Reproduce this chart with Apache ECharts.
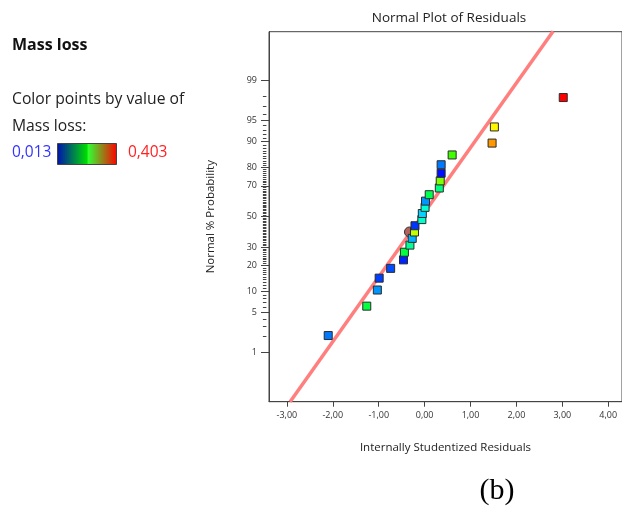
<!DOCTYPE html>
<html><head><meta charset="utf-8">
<script src="https://cdn.jsdelivr.net/npm/echarts@6/dist/echarts.min.js"></script>
<style>html,body{margin:0;padding:0;background:#fff}#c{width:622px;height:506px}</style>
</head><body><div id="c"></div>
<script>
// ---- data ----
const residuals = [-2.10, -1.26, -1.03, -0.99, -0.74, -0.46, -0.44, -0.32, -0.27, -0.22, -0.21, -0.06,
                   -0.05, 0.01, 0.02, 0.10, 0.32, 0.34, 0.36, 0.36, 0.60, 1.47, 1.52, 3.02];
const probabilities = [2.08, 6.25, 10.42, 14.58, 18.75, 22.92, 27.08, 31.25, 35.42, 39.58, 43.75, 47.92,
                       52.08, 56.25, 60.42, 64.58, 68.75, 72.92, 77.08, 81.25, 85.42, 89.58, 93.75, 97.92];
const massLoss = [0.059, 0.184, 0.070, 0.037, 0.042, 0.026, 0.184, 0.151, 0.081, 0.281, 0.033, 0.130,
                  0.094, 0.127, 0.070, 0.179, 0.159, 0.257, 0.019, 0.059, 0.232, 0.345, 0.309, 0.403];
const highlightResidual = [-0.33];
const highlightProbability = [39.58];
const fitLineResidual = [-2.93, 2.80];
const fitLineProbability = [0.076, 99.924];
const probTickLabels = [1, 5, 10, 20, 30, 50, 70, 80, 90, 95, 99];
const residualTicks = [-3, -2, -1, 0, 1, 2, 3, 4];
const massLossMin = 0.013, massLossMax = 0.403;

// ---- normal probability scale ----
function probit(p){
  const a=[-3.969683028665376e+01,2.209460984245205e+02,-2.759285104469687e+02,1.383577518672690e+02,-3.066479806614716e+01,2.506628277459239e+00];
  const b=[-5.447609879822406e+01,1.615858368580409e+02,-1.556989798598866e+02,6.680131188771972e+01,-1.328068155288572e+01];
  const c=[-7.784894002430293e-03,-3.223964580411365e-01,-2.400758277161838e+00,-2.549671010050340e+00,4.374664141464968e+00,2.938163982698783e+00];
  const d=[7.784695709041462e-03,3.224671290700398e-01,2.445134137142996e+00,3.754408661907416e+00];
  const pl=0.02425, ph=1-pl; let q,r;
  if(p<pl){q=Math.sqrt(-2*Math.log(p));return (((((c[0]*q+c[1])*q+c[2])*q+c[3])*q+c[4])*q+c[5])/((((d[0]*q+d[1])*q+d[2])*q+d[3])*q+1);}
  if(p>ph){q=Math.sqrt(-2*Math.log(1-p));return -(((((c[0]*q+c[1])*q+c[2])*q+c[3])*q+c[4])*q+c[5])/((((d[0]*q+d[1])*q+d[2])*q+d[3])*q+1);}
  q=p-0.5;r=q*q;return (((((a[0]*r+a[1])*r+a[2])*r+a[3])*r+a[4])*r+a[5])*q/(((((b[0]*r+b[1])*r+b[2])*r+b[3])*r+b[4])*r+1);
}
const z = pct => probit(pct/100);
const majorZ = probTickLabels.map(z);
const minorZ = [];
for (let p = 1; p <= 99; p++) if (probTickLabels.indexOf(p) < 0) minorZ.push(z(p));

const pointData = residuals.map((r,i)=>[r, z(probabilities[i]), massLoss[i]]);
const highlightData = highlightResidual.map((r,i)=>[r, z(highlightProbability[i])]);
const lineData = fitLineResidual.map((r,i)=>[r, z(fitLineProbability[i])]);

const YMIN=-3.17, YMAX=3.165, XMIN=-3.39, XMAX=4.30;
const fontFam = '"Open Sans", "Noto Sans", sans-serif';
const GRID_W = 355.6;

const chart = echarts.init(document.getElementById('c'), null, {renderer:'canvas'});
chart.setOption({
  animation:false,
  backgroundColor:'#fff',
  grid:{left:269, top:31.7, width:GRID_W, height:370, show:true, borderColor:'#444', borderWidth:1, backgroundColor:'transparent'},
  xAxis:{type:'value', min:XMIN, max:XMAX,
    name:'Internally Studentized Residuals', nameLocation:'middle', nameGap:40,
    nameTextStyle:{fontSize:11.5, color:'#222', fontFamily:fontFam},
    axisLine:{show:true, onZero:false, lineStyle:{color:'#444', width:1}},
    axisTick:{show:true, length:5, customValues:residualTicks, lineStyle:{color:'#444'}},
    axisLabel:{customValues:residualTicks, fontSize:9, color:'#333', margin:9, fontFamily:fontFam,
      formatter:v=>v.toFixed(2).replace('.',',')},
    splitLine:{show:false}},
  yAxis:[
    {type:'value', min:YMIN, max:YMAX, position:'left',
      name:'Normal % Probability', nameLocation:'middle', nameGap:52,
      nameTextStyle:{fontSize:11.5, color:'#222', fontFamily:fontFam},
      axisLine:{show:true, onZero:false, lineStyle:{color:'#444', width:1}},
      axisTick:{show:true, length:8, customValues:majorZ, lineStyle:{color:'#444'}},
      axisLabel:{customValues:majorZ, fontSize:9, color:'#333', margin:12, fontFamily:fontFam,
        formatter:v=>{let best=0,bd=1e9;majorZ.forEach((m,i)=>{const dd=Math.abs(m-v);if(dd<bd){bd=dd;best=i;}});return String(probTickLabels[best]);}},
      splitLine:{show:false}},
    {type:'value', min:YMIN, max:YMAX, position:'right', offset:-GRID_W,
      axisLine:{show:false, onZero:false},
      axisTick:{show:true, inside:true, length:3.5, customValues:minorZ, lineStyle:{color:'#444'}},
      axisLabel:{show:false, customValues:minorZ}, splitLine:{show:false}}
  ],
  visualMap:{type:'continuous', show:false, min:massLossMin, max:massLossMax, dimension:2, seriesIndex:2,
    inRange:{color:['#0000ff','#0080ff','#00ffff','#00ff80','#00ff00','#80ff00','#ffff00','#ff8000','#ff0000']}},
  series:[
    {type:'line', data:lineData, showSymbol:false, symbol:'none', silent:true,
      lineStyle:{color:'#ff7f7f', width:3.5}, z:1},
    {type:'scatter', data:highlightData, symbol:'circle', symbolSize:10,
      itemStyle:{color:'#b5615c', borderColor:'#333', borderWidth:1, opacity:1}, z:2},
    {type:'scatter', data:pointData, symbol:'rect', symbolSize:8,
      itemStyle:{borderColor:'#2a2a2a', borderWidth:1, opacity:1}, z:3}
  ],
  graphic:[
    {type:'text', x:449, y:18, style:{text:'Normal Plot of Residuals', font:'13.5px '+fontFam, fill:'#222', textAlign:'center', textVerticalAlign:'middle', align:'center', verticalAlign:'middle'}},
    {type:'text', x:12, y:45, style:{text:'Mass loss', font:'bold 16px '+fontFam, fill:'#111', textVerticalAlign:'middle', verticalAlign:'middle'}},
    {type:'text', x:12, y:100, style:{text:'Color points by value of', font:'15.7px '+fontFam, fill:'#222', textVerticalAlign:'middle', verticalAlign:'middle'}},
    {type:'text', x:12, y:127, style:{text:'Mass loss:', font:'15.7px '+fontFam, fill:'#222', textVerticalAlign:'middle', verticalAlign:'middle'}},
    {type:'text', x:12, y:153, style:{text:'0,013', font:'15.5px '+fontFam, fill:'#3333ff', textVerticalAlign:'middle', verticalAlign:'middle'}},
    {type:'rect', shape:{x:57.5, y:143.5, width:59, height:21},
      style:{stroke:'#444', lineWidth:1, fill:new echarts.graphic.LinearGradient(0,0,1,0,[
        {offset:0,color:'#0010b0'},{offset:0.5,color:'#00dd00'},{offset:0.52,color:'#30ff30'},{offset:1,color:'#ff0000'}])}},
    {type:'text', x:128, y:153, style:{text:'0,403', font:'15.5px '+fontFam, fill:'#ff2222', textVerticalAlign:'middle', verticalAlign:'middle'}},
    {type:'text', x:497, y:491, style:{text:'(b)', font:'30px "Liberation Serif", "DejaVu Serif", serif', fill:'#000', textAlign:'center', textVerticalAlign:'middle', align:'center', verticalAlign:'middle'}}
  ]
});
</script>
</body></html>
